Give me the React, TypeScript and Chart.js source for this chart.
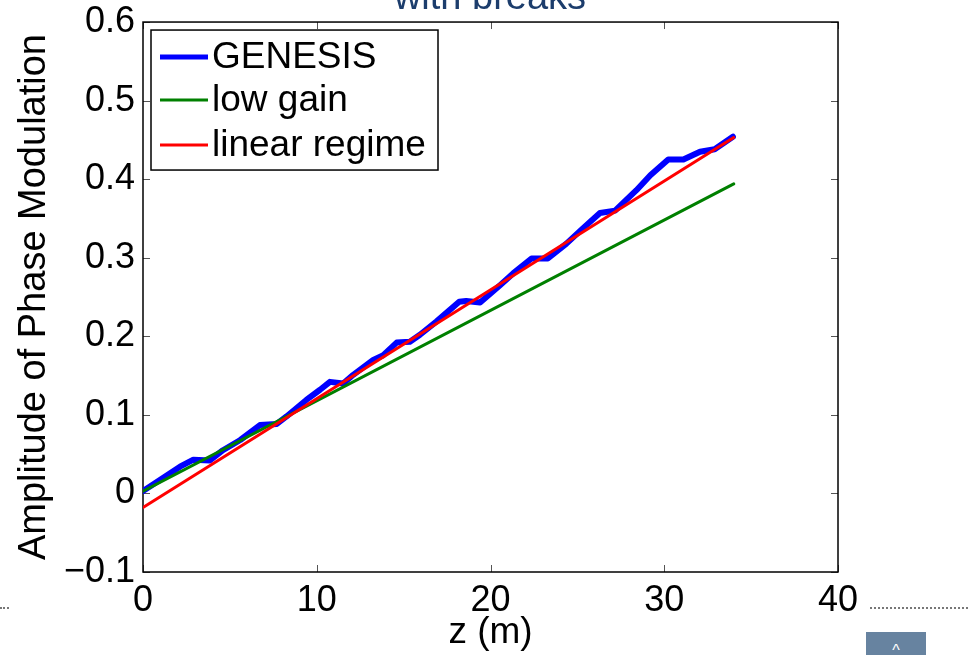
import React, { useEffect, useRef } from "react";
import { Chart, registerables } from "chart.js";

Chart.register(...registerables);

// ---- data ----
const genesisZ = [0, 0.97, 2.13, 2.9, 3.85, 4.6, 5.6, 6.73, 7.7, 8.26, 9.4, 10.19, 10.76, 11.52, 12.1, 13.25, 13.83, 14.6, 15.36, 15.94, 16.9, 18.2, 18.6, 19.4, 20.55, 21.3, 22.36, 23.3, 24.37, 25.3, 26.3, 27.17, 28.4, 29.2, 30.23, 31.1, 32.06, 32.9, 33.95];
const genesisAmp = [0.003, 0.017, 0.034, 0.043, 0.042, 0.055, 0.068, 0.087, 0.0885, 0.098, 0.119, 0.132, 0.142, 0.14, 0.151, 0.17, 0.176, 0.192, 0.193, 0.202, 0.219, 0.244, 0.245, 0.243, 0.265, 0.28, 0.299, 0.299, 0.318, 0.337, 0.357, 0.36, 0.386, 0.405, 0.425, 0.425, 0.435, 0.438, 0.454];
const lowGainZ = [0, 34];
const lowGainAmp = [0.003, 0.394];
const linearZ = [0, 34];
const linearAmp = [-0.018, 0.453];

const xTicks = [0, 10, 20, 30, 40];
const yTicks = [-0.1, 0, 0.1, 0.2, 0.3, 0.4, 0.5, 0.6];

const seriesLabels = ["GENESIS", "low gain", "linear regime"];
const seriesColors = ["#0000ff", "#008000", "#ff0000"];
const seriesWidths = [6, 3, 3];

const xTitle = "z (m)";
const yTitle = "Amplitude of Phase Modulation";
const slideTitle = "with breaks";

const FONT = "'Liberation Sans', Arial, Helvetica, sans-serif";

const toPoints = (xs: number[], ys: number[]) => xs.map((x, i) => ({ x, y: ys[i] }));

const fmtY = (v: number) => {
  if (Math.abs(v) < 1e-9) return "0";
  const s = Math.abs(v).toFixed(1);
  return v < 0 ? "\u2212" + s : s;
};

const boxPlugin = {
  id: "matlabBox",
  beforeDatasetsDraw(chart: any) {
    const { ctx, chartArea } = chart;
    const { left, right, top, bottom } = chartArea;
    const xs = chart.scales.x;
    const ys = chart.scales.y;
    const tl = 7;
    ctx.save();
    ctx.strokeStyle = "#555";
    ctx.lineWidth = 1;
    ctx.beginPath();
    xTicks.forEach((t) => {
      const px = Math.round(xs.getPixelForValue(t)) + 0.5;
      ctx.moveTo(px, bottom);
      ctx.lineTo(px, bottom - tl);
      ctx.moveTo(px, top);
      ctx.lineTo(px, top + tl);
    });
    yTicks.forEach((t) => {
      const py = Math.round(ys.getPixelForValue(t)) + 0.5;
      ctx.moveTo(left, py);
      ctx.lineTo(left + tl, py);
      ctx.moveTo(right, py);
      ctx.lineTo(right - tl, py);
    });
    ctx.stroke();
    ctx.strokeStyle = "#000";
    ctx.lineWidth = 1.5;
    ctx.strokeRect(left, top, right - left, bottom - top);
    ctx.restore();
  },
};

const legendPlugin = {
  id: "boxLegend",
  afterDraw(chart: any) {
    const { ctx, chartArea } = chart;
    const bx = chartArea.left + 8;
    const by = chartArea.top + 8;
    const bw = 287;
    const bh = 140;
    ctx.save();
    ctx.fillStyle = "#fff";
    ctx.fillRect(bx, by, bw, bh);
    ctx.strokeStyle = "#000";
    ctx.lineWidth = 1.5;
    ctx.strokeRect(bx, by, bw, bh);
    const rowY = [27, 70, 115];
    chart.data.datasets.forEach((ds: any, i: number) => {
      const y = by + rowY[i];
      ctx.strokeStyle = ds.borderColor;
      ctx.lineWidth = Math.min(ds.borderWidth, 5);
      ctx.beginPath();
      ctx.moveTo(bx + 9, y);
      ctx.lineTo(bx + 57, y);
      ctx.stroke();
      ctx.fillStyle = "#000";
      ctx.font = `37px ${FONT}`;
      ctx.textBaseline = "middle";
      ctx.textAlign = "left";
      ctx.fillText(ds.label, bx + 61, y + 1);
    });
    ctx.restore();
  },
};

export default function App() {
  const canvasRef = useRef<HTMLCanvasElement | null>(null);

  useEffect(() => {
    if (!canvasRef.current) return;
    const datasets = [
      { label: seriesLabels[0], data: toPoints(genesisZ, genesisAmp) },
      { label: seriesLabels[1], data: toPoints(lowGainZ, lowGainAmp) },
      { label: seriesLabels[2], data: toPoints(linearZ, linearAmp) },
    ].map((d, i) => ({
      ...d,
      borderColor: seriesColors[i],
      backgroundColor: seriesColors[i],
      borderWidth: seriesWidths[i],
      pointRadius: 0,
      tension: 0,
      fill: false,
      borderJoinStyle: "round" as const,
      borderCapStyle: "round" as const,
      order: 2 - i,
    }));

    const chart = new Chart(canvasRef.current, {
      type: "line",
      data: { datasets },
      options: {
        animation: false,
        responsive: false,
        devicePixelRatio: 1,
        layout: { padding: { left: 0, top: 0, right: 139, bottom: 0 } },
        plugins: { legend: { display: false }, tooltip: { enabled: false } },
        scales: {
          x: {
            type: "linear",
            min: 0,
            max: 40,
            grid: { display: false, drawTicks: false },
            border: { display: false },
            afterBuildTicks: (s: any) => {
              s.ticks = xTicks.map((v) => ({ value: v }));
            },
            afterFit: (s: any) => {
              s.height = 83;
            },
            ticks: {
              color: "#000",
              padding: 7,
              maxRotation: 0,
              font: { family: FONT, size: 36 },
              callback: (v: any) => String(v),
            },
            title: {
              display: true,
              text: xTitle,
              color: "#000",
              font: { family: FONT, size: 37 },
              padding: { top: 0, bottom: 0 },
            },
          },
          y: {
            type: "linear",
            min: -0.1,
            max: 0.6,
            grid: { display: false, drawTicks: false },
            border: { display: false },
            afterBuildTicks: (s: any) => {
              s.ticks = yTicks.map((v) => ({ value: v }));
            },
            afterFit: (s: any) => {
              s.width = 143;
            },
            ticks: {
              color: "#000",
              padding: 8,
              font: { family: FONT, size: 36, lineHeight: 0.78 },
              callback: (v: any) => fmtY(Number(v)),
            },
            title: {
              display: true,
              text: yTitle,
              color: "#000",
              font: { family: FONT, size: 38 },
              padding: { top: 12, bottom: 0 },
            },
          },
        },
      },
      plugins: [boxPlugin, legendPlugin],
    });
    return () => chart.destroy();
  }, []);

  return (
    <div
      style={{
        position: "fixed",
        left: 0,
        top: 0,
        width: 977,
        height: 655,
        overflow: "hidden",
        background: "#fff",
      }}
    >
      <canvas ref={canvasRef} width={977} height={655} style={{ position: "absolute", left: 0, top: 0 }} />
      <div
        style={{
          position: "absolute",
          left: 290,
          width: 400,
          top: -23,
          textAlign: "center",
          fontFamily: FONT,
          fontSize: 38,
          lineHeight: "38px",
          color: "#1c3d6c",
          whiteSpace: "nowrap",
        }}
      >
        {slideTitle}
      </div>
      <div style={{ position: "absolute", left: 0, top: 607, width: 9, borderTop: "2px dotted #777" }} />
      <div style={{ position: "absolute", left: 870, top: 607, width: 98, borderTop: "2px dotted #777" }} />
      <div
        style={{
          position: "absolute",
          left: 866,
          top: 632,
          width: 60,
          height: 30,
          background: "#6783a0",
          color: "#fff",
          fontFamily: FONT,
          fontSize: 16,
          textAlign: "center",
        }}
      >
        <span style={{ position: "relative", top: 10 }}>^</span>
      </div>
    </div>
  );
}
